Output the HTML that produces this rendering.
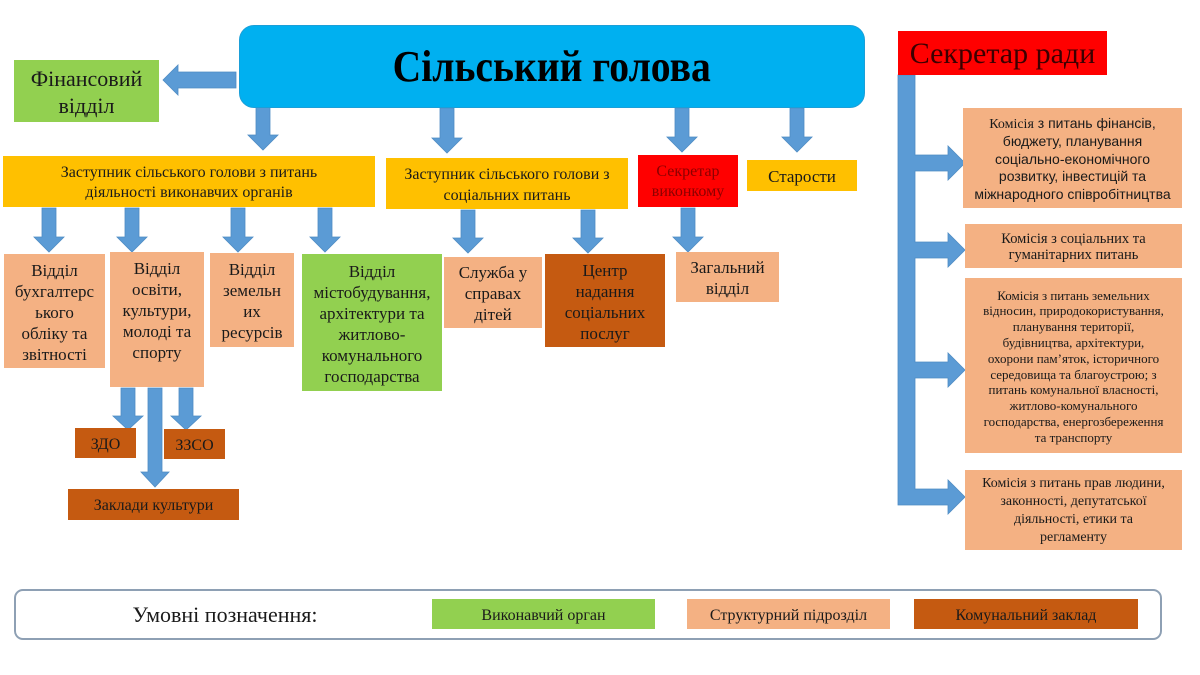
<!DOCTYPE html>
<html><head><meta charset="utf-8">
<style>
html,body{margin:0;padding:0;background:#fff;}
body{width:1200px;height:675px;position:relative;overflow:hidden;font-family:"Liberation Serif","DejaVu Serif",serif;color:#1a1a1a;}
.b{position:absolute;display:flex;align-items:center;justify-content:center;text-align:center;white-space:nowrap;box-sizing:border-box;padding-top:2px;}
.y{background:#ffc000;}
.g{background:#92d050;}
.p{background:#f4b183;}
.o{background:#c55a11;}
.r{background:#ff0000;}
svg{position:absolute;left:0;top:0;}
</style></head><body>
<svg width="1200" height="675" viewBox="0 0 1200 675">
<g fill="#5b9bd5" stroke="#4f8cc4" stroke-width="0.8">
<polygon points="236,72 178,72 178,65 163,80 178,95 178,88 236,88"/>
<polygon points="256,107 270,107 270,135 278,135 263,150 248,135 256,135"/>
<polygon points="440,108 454,108 454,138 462,138 447,153 432,138 440,138"/>
<polygon points="675,108 689,108 689,137 697,137 682,152 667,137 675,137"/>
<polygon points="790,108 804,108 804,137 812,137 797,152 782,137 790,137"/>
<polygon points="42,208 56,208 56,237 64,237 49,252 34,237 42,237"/>
<polygon points="125,208 139,208 139,237 147,237 132,252 117,237 125,237"/>
<polygon points="231,208 245,208 245,237 253,237 238,252 223,237 231,237"/>
<polygon points="318,208 332,208 332,237 340,237 325,252 310,237 318,237"/>
<polygon points="461,210 475,210 475,238 483,238 468,253 453,238 461,238"/>
<polygon points="581,210 595,210 595,238 603,238 588,253 573,238 581,238"/>
<polygon points="681,208 695,208 695,237 703,237 688,252 673,237 681,237"/>
<polygon points="121,388 135,388 135,416 143,416 128,430 113,416 121,416"/>
<polygon points="148,388 162,388 162,472 169,472 155,487 141,472 148,472"/>
<polygon points="179,388 193,388 193,416 201,416 186,430 171,416 179,416"/>
<polygon points="898,75 915,75 915,155 948,155 948,146 965,163 948,180 948,171 915,171 915,242 948,242 948,233 965,250 948,267 948,258 915,258 915,362 948,362 948,353 965,370 948,387 948,378 915,378 915,489 948,489 948,480 965,497 948,514 948,505 898,505"/>
</g>
</svg>

<div class="b" style="left:239px;top:25px;width:626px;height:83px;background:#00b0f0;border:1px solid #1b9fd8;border-radius:15px;padding-top:0;">
<span style="font-weight:bold;font-size:44px;color:#000;display:inline-block;transform:scaleX(0.9);">Сільський голова</span></div>

<div class="b g" style="left:14px;top:60px;width:145px;height:62px;font-size:22px;line-height:27px;">Фінансовий<br>відділ</div>

<div class="b r" style="left:898px;top:31px;width:209px;height:44px;font-size:30px;color:#3c0000;">Секретар ради</div>

<div class="b y" style="left:3px;top:156px;width:372px;height:51px;font-size:16px;line-height:20px;">Заступник сільського голови з питань<br>діяльності виконавчих органів</div>
<div class="b y" style="left:386px;top:158px;width:242px;height:51px;font-size:16px;line-height:21px;">Заступник сільського голови з<br>соціальних питань</div>
<div class="b r" style="left:638px;top:155px;width:100px;height:52px;font-size:16px;line-height:20px;color:#8b0000;">Секретар<br>виконкому</div>
<div class="b y" style="left:747px;top:160px;width:110px;height:31px;font-size:17px;">Старости</div>

<div class="b p" style="left:4px;top:254px;width:101px;height:114px;font-size:17px;line-height:21px;">Відділ<br>бухгалтерс<br>ького<br>обліку та<br>звітності</div>
<div class="b p" style="left:110px;top:252px;width:94px;height:135px;font-size:17px;line-height:21px;align-items:flex-start;padding-top:6px;">Відділ<br>освіти,<br>культури,<br>молоді та<br>спорту</div>
<div class="b p" style="left:210px;top:253px;width:84px;height:94px;font-size:17px;line-height:21px;">Відділ<br>земельн<br>их<br>ресурсів</div>
<div class="b g" style="left:302px;top:254px;width:140px;height:137px;font-size:17px;line-height:21px;">Відділ<br>містобудування,<br>архітектури та<br>житлово-<br>комунального<br>господарства</div>
<div class="b p" style="left:444px;top:257px;width:98px;height:71px;font-size:17px;line-height:21px;">Служба у<br>справах<br>дітей</div>
<div class="b o" style="left:545px;top:254px;width:120px;height:93px;font-size:17px;line-height:21px;">Центр<br>надання<br>соціальних<br>послуг</div>
<div class="b p" style="left:676px;top:252px;width:103px;height:50px;font-size:17px;line-height:21px;">Загальний<br>відділ</div>

<div class="b o" style="left:75px;top:428px;width:61px;height:30px;font-size:16px;padding-top:4px;">ЗДО</div>
<div class="b o" style="left:164px;top:429px;width:61px;height:30px;font-size:16px;padding-top:4px;">ЗЗСО</div>
<div class="b o" style="left:68px;top:489px;width:171px;height:31px;font-size:16px;padding-top:3px;">Заклади культури</div>

<div class="b p" style="left:963px;top:108px;width:219px;height:100px;font-family:'Liberation Sans','DejaVu Sans',sans-serif;font-size:14px;line-height:17.5px;"><span><span style="font-family:'Liberation Serif',serif;">Комісія</span> з питань фінансів,<br>бюджету, планування<br>соціально-економічного<br>розвитку, інвестицій та<br>міжнародного співробітництва</span></div>
<div class="b p" style="left:965px;top:224px;width:217px;height:44px;font-size:14.5px;line-height:16px;">Комісія з соціальних та<br>гуманітарних питань</div>
<div class="b p" style="left:965px;top:278px;width:217px;height:175px;font-size:13px;line-height:15.8px;">Комісія з питань земельних<br>відносин, природокористування,<br>планування території,<br>будівництва, архітектури,<br>охорони пам’яток, історичного<br>середовища та благоустрою; з<br>питань комунальної власності,<br>житлово-комунального<br>господарства, енергозбереження<br>та транспорту</div>
<div class="b p" style="left:965px;top:470px;width:217px;height:80px;font-size:14px;line-height:18px;">Комісія з питань прав людини,<br>законності, депутатської<br>діяльності, етики та<br>регламенту</div>

<div style="position:absolute;left:14px;top:589px;width:1148px;height:51px;box-sizing:border-box;border:2px solid #8ea0b4;border-radius:9px;background:#fff;"></div>
<div class="b" style="left:120px;top:599px;width:210px;height:30px;font-size:22px;">Умовні позначення:</div>
<div class="b g" style="left:432px;top:599px;width:223px;height:30px;font-size:16px;padding-top:4px;">Виконавчий орган</div>
<div class="b p" style="left:687px;top:599px;width:203px;height:30px;font-size:16px;padding-top:4px;">Структурний підрозділ</div>
<div class="b o" style="left:914px;top:599px;width:224px;height:30px;font-size:16px;padding-top:4px;">Комунальний заклад</div>
</body></html>
